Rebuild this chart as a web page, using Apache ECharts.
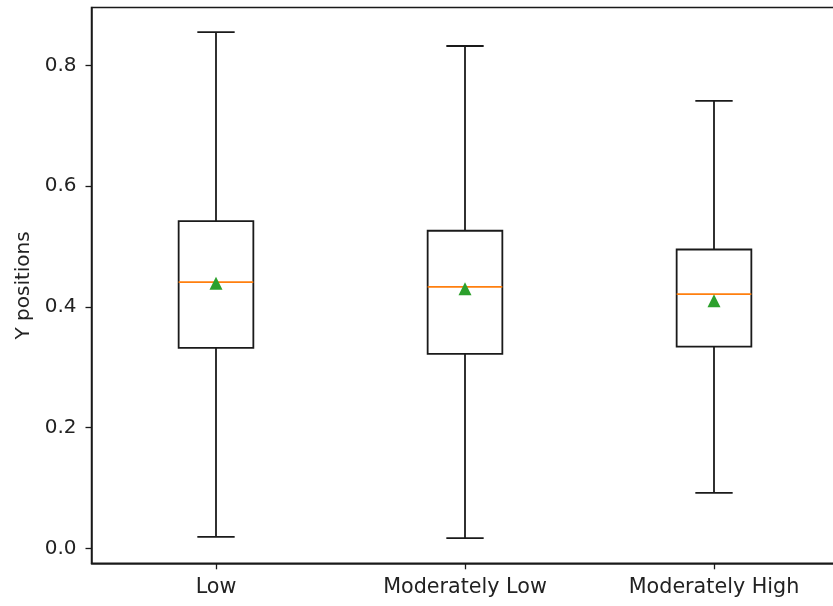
<!DOCTYPE html>
<html>
<head>
<meta charset="utf-8">
<script src="https://cdn.jsdelivr.net/npm/echarts@6/dist/echarts.min.js"></script>
<style>
  html, body { margin: 0; padding: 0; background: #fff; }
  #chart { width: 833px; height: 606px; }
</style>
</head>
<body>
<div id="chart"></div>
<script>
// Categories and five-number summaries per group
const categories = ['Low', 'Moderately Low', 'Moderately High'];
const whiskerLow = [0.019, 0.017, 0.092];
const q1 = [0.332, 0.322, 0.334];
const median = [0.441, 0.433, 0.421];
const q3 = [0.542, 0.526, 0.495];
const whiskerHigh = [0.855, 0.832, 0.741];
const means = [0.439, 0.430, 0.410];
const yTicks = [0.0, 0.2, 0.4, 0.6, 0.8];

const boxData = categories.map((c, i) => [i, whiskerLow[i], q1[i], median[i], q3[i], whiskerHigh[i]]);
const meanData = categories.map((c, i) => [i, means[i]]);

const lineColor = '#1a1a1a';
const textColor = '#222';
const font = 'DejaVu Sans';

function renderBox(params, api) {
  const idx = api.value(0);
  const band = api.size([1, 0])[0];
  const halfBox = band * 0.15;
  const halfCap = band * 0.075;
  const pLow = api.coord([idx, api.value(1)]);
  const pQ1 = api.coord([idx, api.value(2)]);
  const pMed = api.coord([idx, api.value(3)]);
  const pQ3 = api.coord([idx, api.value(4)]);
  const pHigh = api.coord([idx, api.value(5)]);
  const x = pQ1[0];
  const st = { stroke: lineColor, lineWidth: 1.8, fill: null };
  return {
    type: 'group',
    children: [
      { type: 'rect', shape: { x: x - halfBox, y: pQ3[1], width: halfBox * 2, height: pQ1[1] - pQ3[1] }, style: { stroke: lineColor, lineWidth: 1.8, fill: '#fff' } },
      { type: 'line', shape: { x1: x, y1: pQ1[1], x2: x, y2: pLow[1] }, style: st },
      { type: 'line', shape: { x1: x, y1: pQ3[1], x2: x, y2: pHigh[1] }, style: st },
      { type: 'line', shape: { x1: x - halfCap, y1: pLow[1], x2: x + halfCap, y2: pLow[1] }, style: st },
      { type: 'line', shape: { x1: x - halfCap, y1: pHigh[1], x2: x + halfCap, y2: pHigh[1] }, style: st },
      { type: 'line', shape: { x1: x - halfBox, y1: pMed[1], x2: x + halfBox, y2: pMed[1] }, style: { stroke: '#ff7f0e', lineWidth: 1.8 } }
    ]
  };
}

const chart = echarts.init(document.getElementById('chart'));
chart.setOption({
  animation: false,
  backgroundColor: '#fff',
  grid: {
    left: 91.5, width: 747, top: 7.5, height: 555.8,
    outerBoundsMode: 'none', containLabel: false,
    show: true, borderColor: lineColor, borderWidth: 1.5, backgroundColor: 'transparent'
  },
  xAxis: {
    type: 'category',
    data: categories,
    boundaryGap: true,
    axisLine: { show: true, onZero: false, lineStyle: { color: lineColor, width: 1.5 } },
    axisTick: { show: true, alignWithLabel: true, length: 6, lineStyle: { color: lineColor, width: 1.3 } },
    axisLabel: { color: textColor, fontFamily: font, fontSize: 20.7, margin: 14 },
    splitLine: { show: false }
  },
  yAxis: {
    type: 'value',
    min: -0.0248,
    max: 0.8958,
    name: 'Y positions',
    nameLocation: 'middle',
    nameGap: 58,
    nameRotate: 90,
    nameTextStyle: { color: textColor, fontFamily: font, fontSize: 20 },
    axisLine: { show: true, lineStyle: { color: lineColor, width: 1.5 } },
    axisTick: { show: true, length: 6, customValues: yTicks, lineStyle: { color: lineColor, width: 1.3 } },
    axisLabel: {
      color: textColor, fontFamily: font, fontSize: 20, margin: 15,
      customValues: yTicks,
      formatter: v => v.toFixed(1)
    },
    splitLine: { show: false }
  },
  series: [
    {
      type: 'custom',
      renderItem: renderBox,
      encode: { x: 0, y: [1, 2, 3, 4, 5] },
      data: boxData,
      z: 2
    },
    {
      type: 'scatter',
      data: meanData,
      symbol: 'triangle',
      symbolSize: [13, 13],
      itemStyle: { color: '#2ca02c', opacity: 1 },
      z: 3
    }
  ]
});
</script>
</body>
</html>
